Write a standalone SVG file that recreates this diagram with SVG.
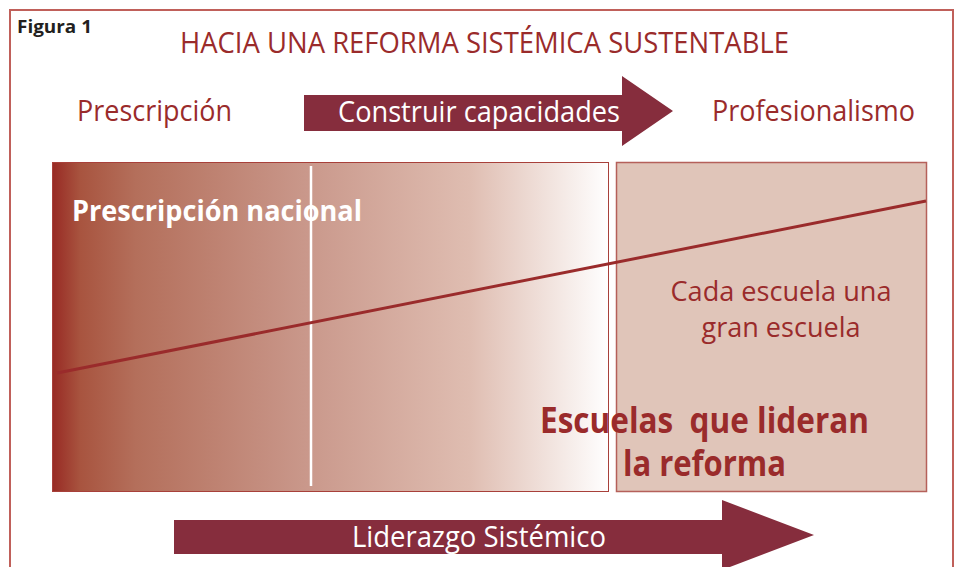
<svg xmlns="http://www.w3.org/2000/svg" width="960" height="567" viewBox="0 0 960 567">
<style>
.t{font-family:"Open Sans","Liberation Sans",sans-serif}
.red{fill:#9a2b2b}
.wh{fill:#ffffff}
.arrow{fill:#862d3d}
</style>
<defs>
<linearGradient id="g" x1="0" y1="0" x2="1" y2="0">
<stop offset="0" stop-color="#982a24"/>
<stop offset="0.05" stop-color="#a8543f"/>
<stop offset="0.15" stop-color="#b46f5b"/>
<stop offset="0.45" stop-color="#c9978a"/>
<stop offset="0.75" stop-color="#dfbdb1"/>
<stop offset="1" stop-color="#ffffff"/>
</linearGradient>
</defs>
<rect width="960" height="567" fill="#ffffff"/>
<rect x="10" y="10" width="943" height="570" fill="none" stroke="#c0605a" stroke-width="2"/>
<text class="t" x="17" y="33" font-size="18" font-weight="bold" fill="#231f20" textLength="75" lengthAdjust="spacingAndGlyphs">Figura 1</text>
<text class="t red" x="180" y="53" font-size="29" textLength="609" lengthAdjust="spacingAndGlyphs">HACIA UNA REFORMA SISTÉMICA SUSTENTABLE</text>
<g id="prescripcion"><text class="t red" x="77" y="121" font-size="29" textLength="155" lengthAdjust="spacingAndGlyphs">Prescripción</text></g>
<g id="profesionalismo"><text class="t red" x="712" y="121" font-size="29" textLength="203" lengthAdjust="spacingAndGlyphs">Profesionalismo</text></g>
<g id="construir">
<polygon class="arrow" points="304,95 622,95 622,76 673,111 622,146 622,131 304,131"/>
<text class="t wh" x="338" y="122" font-size="29" textLength="282" lengthAdjust="spacingAndGlyphs">Construir capacidades</text>
</g>
<g id="left-box">
<rect x="52.5" y="162.5" width="556" height="329" fill="url(#g)" stroke="#a8403a" stroke-width="1"/>
<line x1="311" y1="166" x2="311" y2="486" stroke="#ffffff" stroke-width="2.5"/>
<text class="t wh" x="72" y="221" font-size="28" font-weight="bold" textLength="290" lengthAdjust="spacingAndGlyphs">Prescripción nacional</text>
</g>
<g id="right-box">
<rect x="616.5" y="162.5" width="310" height="329" fill="#e0c5b9" stroke="#b5605a" stroke-width="1.5"/>
<text class="t red" x="781" y="301" font-size="28" text-anchor="middle" textLength="221" lengthAdjust="spacingAndGlyphs">Cada escuela una</text>
<text class="t red" x="781" y="337" font-size="28" text-anchor="middle" textLength="159" lengthAdjust="spacingAndGlyphs">gran escuela</text>
</g>
<g id="connectors">
<line x1="57" y1="373" x2="926" y2="201" stroke="#9a2b2b" stroke-width="3"/>
</g>
<g id="escuelas">
<text class="t red" x="540" y="433" font-size="35" font-weight="bold" textLength="329" lengthAdjust="spacingAndGlyphs">Escuelas&#160; que lideran</text>
<text class="t red" x="623" y="476" font-size="35" font-weight="bold" textLength="163" lengthAdjust="spacingAndGlyphs">la reforma</text>
</g>
<g id="liderazgo">
<polygon class="arrow" points="174,520 722,520 722,500 814,535 722,570 722,554 174,554"/>
<text class="t wh" x="352" y="547" font-size="29" textLength="254" lengthAdjust="spacingAndGlyphs">Liderazgo Sistémico</text>
</g>
</svg>
